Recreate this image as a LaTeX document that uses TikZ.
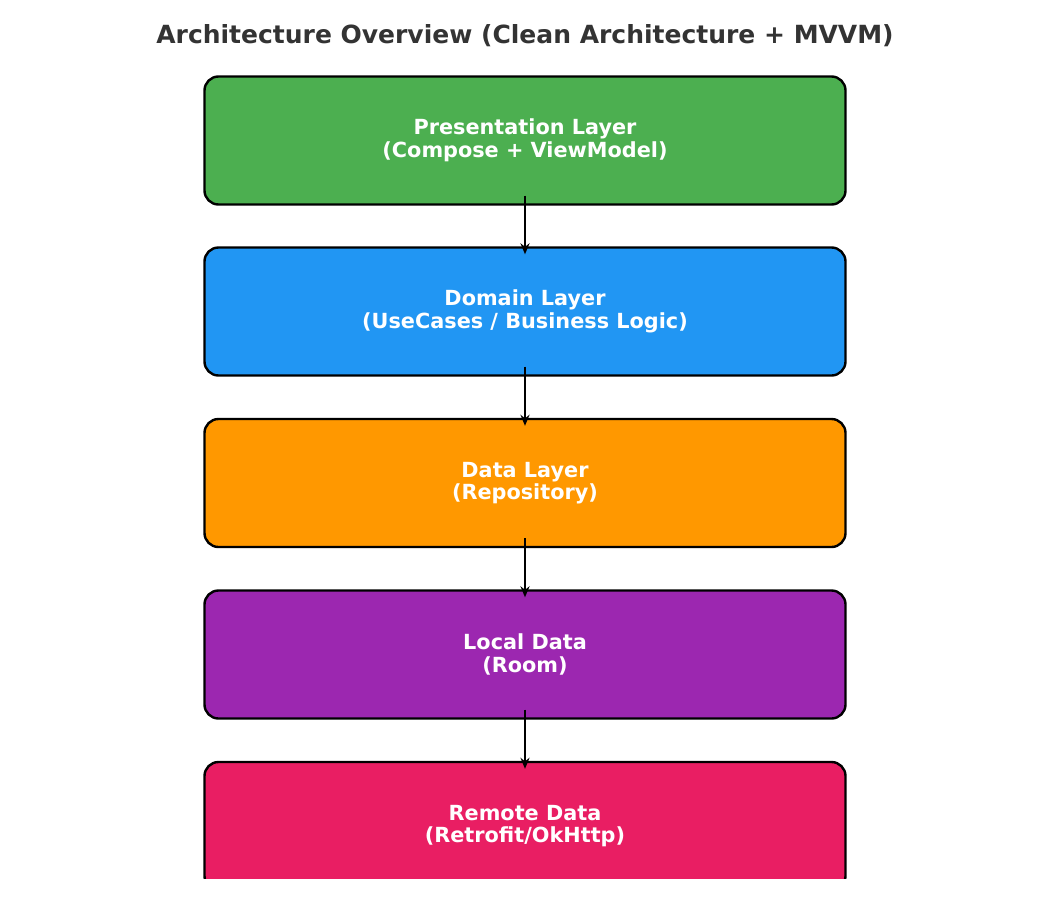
\documentclass[tikz,border=0pt]{standalone}
\usepackage{fontspec}
\setmainfont{DejaVu Sans}
\usetikzlibrary{arrows.meta}
\definecolor{cgreen}{HTML}{4CAF50}
\definecolor{cblue}{HTML}{2196F3}
\definecolor{corange}{HTML}{FF9800}
\definecolor{cpurple}{HTML}{9C27B0}
\definecolor{cpink}{HTML}{E91E63}
\definecolor{ctitle}{HTML}{333333}
\begin{document}
\begin{tikzpicture}[x=1pt,y=-1pt,
  layerbox/.style={draw=black, line width=2.4pt, rounded corners=14pt,
    minimum width=641pt, minimum height=128pt, text=white, align=center,
    font=\fontsize{20.8pt}{22.5pt}\selectfont\bfseries},
  flow/.style={-{Stealth[length=11pt,width=9pt]}, line width=2.8pt}]
\useasboundingbox (0,0) rectangle (1050,900);
\node[font=\fontsize{25pt}{30pt}\selectfont\bfseries, text=ctitle] (title) at (525,35.5) {Architecture Overview (Clean Architecture + MVVM)};
\begin{scope}
\clip (0,0) rectangle (1050,878);
\node[layerbox, fill=cgreen] (b1) at (525,140.5) {Presentation Layer\\(Compose + ViewModel)};
\node[layerbox, fill=cblue] (b2) at (525,311.5) {Domain Layer\\(UseCases / Business Logic)};
\node[layerbox, fill=corange] (b3) at (525,483) {Data Layer\\(Repository)};
\node[layerbox, fill=cpurple] (b4) at (525,654.5) {Local Data\\(Room)};
\node[layerbox, fill=cpink] (b5) at (525,826) {Remote Data\\(Retrofit/OkHttp)};
\end{scope}
\draw[flow] ([yshift=10pt]b1.south) -- ([yshift=-8pt]b2.north);
\draw[flow] ([yshift=10pt]b2.south) -- ([yshift=-8pt]b3.north);
\draw[flow] ([yshift=10pt]b3.south) -- ([yshift=-8pt]b4.north);
\draw[flow] ([yshift=10pt]b4.south) -- ([yshift=-8pt]b5.north);
\end{tikzpicture}
\end{document}
